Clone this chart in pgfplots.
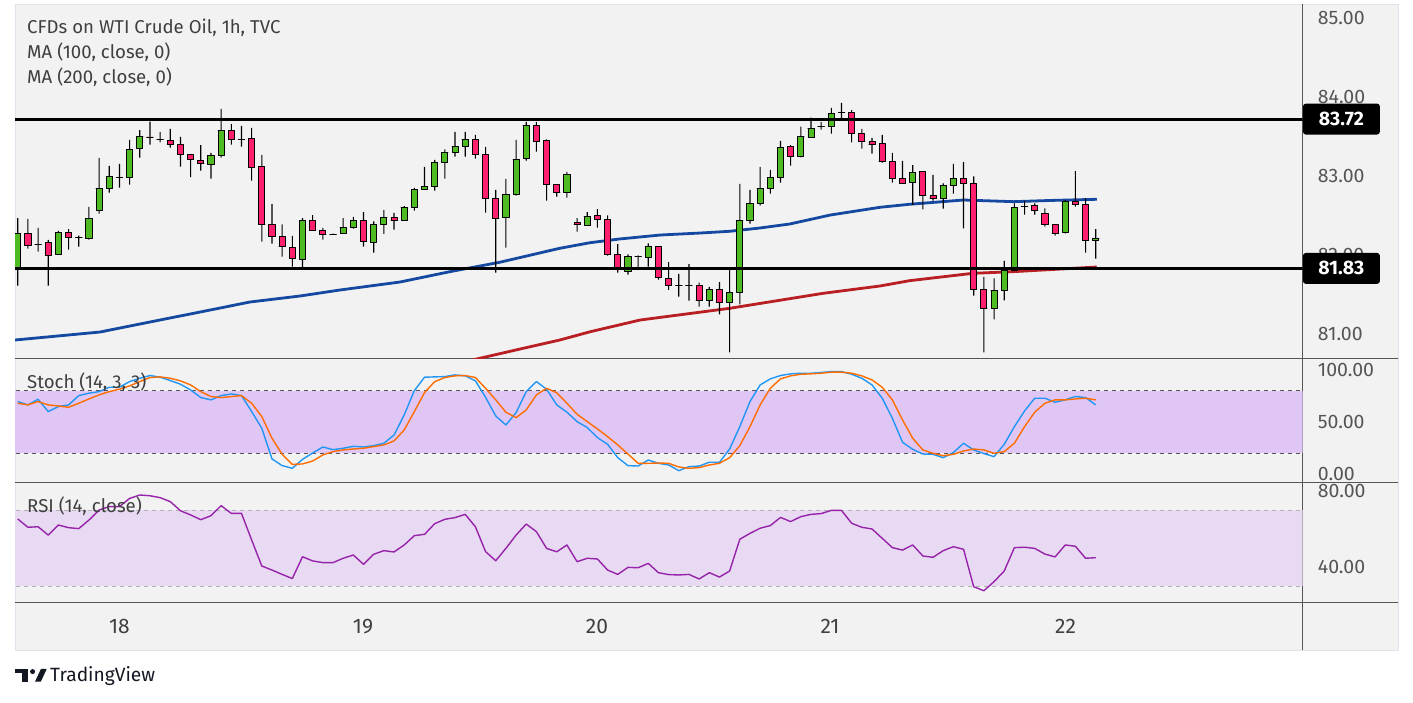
\documentclass[border=0pt]{standalone}
\usepackage{fontspec}
\setmainfont{Fira Sans}
\usepackage{pgfplots}
\pgfplotsset{compat=1.18}
\usepackage{pgfplotstable}

\definecolor{bgc}{HTML}{F2F2F2}
\definecolor{framec}{HTML}{E0E3EB}
\definecolor{sepc}{HTML}{555555}
\definecolor{ticktext}{HTML}{555555}
\definecolor{titletext}{HTML}{3F3F3F}
\definecolor{cgreen}{RGB}{77,187,33}
\definecolor{cred}{RGB}{255,31,110}
\definecolor{maone}{RGB}{21,72,160}
\definecolor{matwo}{RGB}{185,30,35}
\definecolor{stk}{HTML}{2196F3}
\definecolor{std}{HTML}{FF6D00}
\definecolor{rsic}{RGB}{150,35,170}
\definecolor{stband}{HTML}{E0C6F5}
\definecolor{rsiband}{HTML}{E9DAF3}
\definecolor{tvdark}{HTML}{131722}

\pgfplotstableread{
x o h l c
0 81.844 82.468 81.612 82.274
1 82.274 82.456 82.080 82.122
2 82.139 82.342 82.042 82.139
3 82.160 82.190 81.612 81.996
4 82.008 82.304 82.008 82.287
5 82.287 82.329 82.068 82.224
6 82.219 82.245 82.106 82.219
7 82.211 82.608 82.194 82.464
8 82.565 83.228 82.523 82.844
9 82.844 83.127 82.789 82.996
10 82.987 83.152 82.852 82.987
11 82.979 83.456 82.890 83.338
12 83.350 83.582 83.232 83.502
13 83.494 83.688 83.397 83.494
14 83.468 83.557 83.426 83.468
15 83.451 83.595 83.359 83.401
16 83.401 83.494 83.118 83.274
17 83.274 83.274 82.987 83.207
18 83.198 83.392 83.068 83.160
19 83.148 83.291 82.966 83.262
20 83.262 83.848 83.232 83.578
21 83.578 83.658 83.397 83.464
22 83.468 83.633 83.371 83.468
23 83.477 83.608 82.941 83.110
24 83.122 83.266 82.169 82.388
25 82.388 82.646 82.143 82.236
26 82.236 82.388 81.979 82.110
27 82.097 82.241 81.852 81.958
28 81.945 82.468 81.831 82.439
29 82.439 82.506 82.312 82.312
30 82.312 82.342 82.194 82.262
31 82.262 82.270 82.255 82.262
32 82.270 82.468 82.270 82.350
33 82.350 82.481 82.333 82.439
34 82.439 82.544 82.106 82.169
35 82.160 82.426 82.030 82.388
36 82.388 82.570 82.266 82.477
37 82.477 82.532 82.321 82.439
38 82.439 82.620 82.439 82.603
39 82.603 82.848 82.561 82.831
40 82.831 83.114 82.831 82.865
41 82.865 83.203 82.814 83.173
42 83.173 83.338 82.966 83.300
43 83.300 83.557 83.245 83.376
44 83.376 83.557 83.245 83.464
45 83.464 83.519 83.219 83.274
46 83.274 83.367 82.536 82.717
47 82.717 82.823 81.776 82.464
48 82.477 82.962 82.093 82.768
49 82.768 83.456 82.751 83.211
50 83.224 83.684 83.194 83.641
51 83.641 83.684 83.308 83.439
52 83.451 83.464 82.688 82.895
53 82.895 82.895 82.738 82.793
54 82.793 83.051 82.726 83.021
55 82.414 82.468 82.295 82.388
56 82.376 82.544 82.376 82.489
57 82.502 82.582 82.346 82.452
58 82.452 82.502 81.992 82.008
59 82.008 82.139 81.776 81.831
60 81.793 82.008 81.751 81.983
61 81.979 81.996 81.831 81.979
62 81.970 82.148 81.852 82.110
63 82.110 82.110 81.688 81.717
64 81.705 81.911 81.557 81.616
65 81.612 81.760 81.473 81.612
66 81.612 81.886 81.422 81.612
67 81.616 81.650 81.346 81.426
68 81.426 81.595 81.346 81.565
69 81.565 81.658 81.249 81.401
70 81.401 81.810 80.768 81.527
71 81.527 82.899 81.375 82.439
72 82.439 82.823 82.397 82.654
73 82.654 83.114 82.624 82.844
74 82.844 83.076 82.776 82.983
75 82.983 83.443 82.916 83.363
76 83.376 83.392 83.131 83.249
77 83.249 83.624 83.236 83.502
78 83.489 83.738 83.489 83.603
79 83.624 83.684 83.586 83.624
80 83.629 83.861 83.536 83.793
81 83.806 83.924 83.717 83.806
82 83.806 83.835 83.426 83.540
83 83.540 83.595 83.346 83.439
84 83.439 83.481 83.283 83.401
85 83.414 83.519 83.169 83.181
86 83.186 83.291 82.916 82.970
87 82.970 83.190 82.907 82.907
88 82.920 83.139 82.633 83.046
89 83.059 83.059 82.578 82.751
90 82.755 83.013 82.688 82.717
91 82.717 82.907 82.586 82.882
92 82.882 83.152 82.776 82.970
93 82.970 83.177 82.338 82.907
94 82.907 82.996 81.485 81.565
95 81.565 81.722 80.768 81.325
96 81.325 81.705 81.186 81.553
97 81.553 81.924 81.426 81.806
98 81.806 82.654 81.806 82.603
99 82.612 82.684 82.511 82.612
100 82.629 82.654 82.511 82.565
101 82.527 82.591 82.359 82.388
102 82.388 82.388 82.245 82.274
103 82.287 82.696 82.274 82.679
104 82.679 83.063 82.612 82.641
105 82.641 82.717 82.030 82.186
106 82.186 82.329 81.954 82.211
}\candles

\pgfplotstableread{
x y
-0.27 80.924
8.09 81.025
13.0 81.152
17.93 81.278
22.84 81.405
27.76 81.481
31.69 81.557
37.59 81.658
42.5 81.789
47.4 81.908
53.3 82.085
56.3 82.156
59.2 82.203
63.2 82.253
67.1 82.278
70.0 82.300
73.0 82.342
75.9 82.392
79.9 82.506
84.8 82.604
87.7 82.642
93.0 82.696
97.9 82.675
101.5 82.690
106.1 82.705
}\maone

\pgfplotstableread{
x y
44.5 80.665
49.4 80.810
53.3 80.924
56.3 81.029
61.2 81.177
70.0 81.325
79.2 81.515
84.8 81.608
87.7 81.675
93.9 81.768
97.9 81.789
106.1 81.848
}\matwo

\pgfplotstableread{
x k d
0 69.6 68.0
1 66.4 66.4
2 71.8 69.6
3 60.0 66.4
4 64.8 65.4
5 66.4 64.1
6 75.3 68.0
7 77.6 72.1
8 79.1 76.0
9 83.3 79.1
10 83.3 81.4
11 88.7 84.6
12 91.9 88.7
13 94.5 92.6
14 92.9 93.2
15 89.7 91.9
16 86.2 89.4
17 80.7 85.5
18 73.4 79.1
19 71.2 74.4
20 75.3 73.4
21 76.9 74.4
22 75.3 75.3
23 60.0 68.0
24 44.0 55.2
25 14.7 34.5
26 8.3 19.1
27 5.7 9.5
28 14.3 9.9
29 20.4 12.7
30 26.1 18.5
31 23.6 21.7
32 24.9 23.3
33 26.8 24.2
34 26.1 24.9
35 27.4 26.5
36 29.7 28.1
37 37.6 31.9
38 56.8 42.4
39 80.1 60.0
40 92.9 78.2
41 93.2 88.7
42 93.5 92.6
43 95.1 94.2
44 94.2 94.5
45 89.4 92.6
46 73.7 82.3
47 55.8 71.2
48 47.2 59.4
49 59.0 54.2
50 79.1 61.6
51 88.7 76.0
52 81.4 82.3
53 66.4 78.0
54 59.4 68.0
55 50.4 57.4
56 44.7 50.4
57 35.1 43.4
58 28.7 36.0
59 15.9 28.1
60 8.3 19.4
61 7.9 10.5
62 13.7 10.5
63 10.5 10.8
64 8.9 10.5
65 3.5 7.0
66 7.3 5.7
67 7.9 6.4
68 11.5 8.9
69 11.5 10.5
70 24.2 15.9
71 45.6 27.4
72 69.6 45.6
73 85.5 66.4
74 91.3 82.3
75 94.5 91.3
76 96.1 94.2
77 96.7 95.7
78 96.7 96.1
79 97.4 96.7
80 98.3 97.7
81 98.3 97.7
82 95.7 96.7
83 91.9 94.2
84 85.5 90.3
85 72.8 83.3
86 53.6 71.2
87 30.6 52.0
88 23.9 34.5
89 19.4 23.3
90 19.1 20.1
91 15.9 17.8
92 20.8 19.1
93 29.7 22.3
94 23.3 24.2
95 19.8 23.3
96 16.9 20.1
97 28.7 21.7
98 45.6 29.7
99 60.6 45.6
100 72.8 59.4
101 72.8 68.0
102 68.9 71.2
103 71.2 71.2
104 74.4 72.1
105 73.4 72.8
106 66.4 71.2
}\stoch

\pgfplotstableread{
x r
0 65.3
1 60.9
2 61.2
3 56.8
4 62.1
5 60.7
6 60.2
7 64.7
8 70.0
9 71.8
10 71.8
11 76.1
12 77.9
13 77.5
14 76.5
15 74.4
16 69.6
17 67.4
18 64.9
19 67.0
20 72.3
21 68.2
22 68.2
23 54.2
24 40.5
25 38.4
26 36.1
27 33.9
28 45.4
29 43.2
30 42.3
31 42.3
32 44.6
33 46.3
34 41.4
35 46.7
36 48.6
37 47.9
38 51.6
39 56.5
40 57.2
41 62.8
42 65.1
43 66.0
44 67.7
45 61.2
46 48.1
47 43.3
48 49.8
49 56.8
50 62.6
51 58.6
52 49.8
53 48.0
54 51.6
55 42.8
56 44.6
57 44.2
58 38.4
59 36.1
60 39.8
61 39.6
62 41.9
63 37.0
64 36.0
65 35.8
66 36.1
67 33.7
68 37.0
69 34.7
70 37.9
71 54.6
72 57.7
73 60.4
74 61.8
75 66.1
76 63.9
77 66.5
78 67.7
79 68.1
80 69.8
81 69.8
82 63.0
83 60.9
84 60.0
85 55.1
86 50.2
87 48.9
88 51.6
89 45.8
90 45.1
91 48.6
92 50.7
93 49.3
94 29.6
95 27.5
96 32.3
97 37.9
98 50.2
99 50.4
100 49.8
101 46.8
102 45.3
103 51.6
104 50.9
105 44.6
106 44.9
}\rsi

\pgfplotsset{
  tvaxis/.style={
    scale only axis, width=1287.7pt,
    xmin=-0.27, xmax=126.35,
    axis line style={draw=none},
    major tick length=0pt,
    xtick=\empty,
    ytick pos=right, yticklabel pos=right,
    tick label style={font=\fontsize{19.5}{21}\selectfont, text=ticktext},
    yticklabel style={anchor=west, xshift=15pt, inner sep=0pt},
    clip=true,
    anchor=south west,
    every axis plot/.append style={line join=round},
  }
}

\begin{document}
\begin{tikzpicture}[x=1pt,y=1pt]
\useasboundingbox (0,0) rectangle (1413,703);
\fill[bgc] (15,53) rectangle (1398,699);
\draw[framec, line width=0.8pt] (15,53) rectangle (1398,699);
% separators
\draw[sepc, line width=1pt] (1302.7,53) -- (1302.7,699);
\draw[sepc, line width=1pt] (15,344.5) -- (1398,344.5);
\draw[sepc, line width=1pt] (15,220.7) -- (1398,220.7);
\draw[sepc, line width=1pt] (15,100.7) -- (1398,100.7);

% price panel
\begin{axis}[tvaxis, at={(15pt,344.5pt)}, height=354.5pt,
  ymin=80.690, ymax=85.177,
  ytick={81,82,83,84,85}, yticklabels={81.00,82.00,83.00,84.00,85.00}]
\addplot[maone, line width=2.8pt, mark=none] table[x=x,y=y] \maone;
\addplot[matwo, line width=2.8pt, mark=none] table[x=x,y=y] \matwo;
% candles: wick and body as stacked bars
\addplot[ybar, stack plots=y, bar width=0.11, draw=none, fill=none] table[x=x, y=l] \candles;
\addplot[ybar, stack plots=y, bar width=0.11, draw=none, fill=black] table[x=x, y expr={\thisrow{h}-\thisrow{l}}] \candles;
\addplot[ybar, stack plots=y, bar width=0.11, draw=none, fill=none] table[x=x, y expr={min(\thisrow{o},\thisrow{c})-\thisrow{h}}] \candles;
\addplot[ybar, stack plots=y, bar width=0.6, draw=black, line width=0.9pt, fill=cgreen] table[x=x, y expr={max(\thisrow{c}-\thisrow{o},0)}] \candles;
\addplot[ybar, stack plots=y, bar width=0.6, draw=black, line width=0.9pt, fill=cred] table[x=x, y expr={max(\thisrow{o}-\thisrow{c},0)}] \candles;
\addplot[black, line width=3pt, mark=none] coordinates {(-1,83.72) (130,83.72)};
\addplot[black, line width=3pt, mark=none] coordinates {(-1,81.83) (130,81.83)};
\end{axis}

% stochastic panel
\begin{axis}[tvaxis, at={(15pt,220.7pt)}, height=123.8pt,
  ymin=-7.66, ymax=110.8,
  ytick={0,50,100}, yticklabels={0.00,50.00,100.00}]
\fill[stband] (axis cs:-1,20) rectangle (axis cs:130,80);
\draw[sepc, line width=0.9pt, dash pattern=on 4pt off 4pt] (axis cs:-1,80) -- (axis cs:130,80);
\draw[sepc, line width=0.9pt, dash pattern=on 4pt off 4pt] (axis cs:-1,20) -- (axis cs:130,20);
\addplot[stk, line width=1.4pt, mark=none] table[x=x,y=k] \stoch;
\addplot[std, line width=1.4pt, mark=none] table[x=x,y=d] \stoch;
\end{axis}

% RSI panel
\begin{axis}[tvaxis, at={(15pt,100.7pt)}, height=120pt,
  ymin=21.42, ymax=84.58,
  ytick={40,80}, yticklabels={40.00,80.00},
  xtick={10,33.95,56.96,79.87,103.03}, xticklabels={18,19,20,21,22},
  xticklabel style={anchor=center, yshift=-24pt, text=titletext, font=\fontsize{21}{23}\selectfont}]
\fill[rsiband] (axis cs:-1,30) rectangle (axis cs:130,70);
\draw[gray!60, line width=0.9pt, dash pattern=on 4pt off 4pt] (axis cs:-1,70) -- (axis cs:130,70);
\draw[gray!60, line width=0.9pt, dash pattern=on 4pt off 4pt] (axis cs:-1,30) -- (axis cs:130,30);
\addplot[rsic, line width=1.4pt, mark=none] table[x=x,y=r] \rsi;
\end{axis}

% price labels
\node[fill=black, text=white, rounded corners=3pt, minimum width=77pt, minimum height=31pt, inner sep=0pt, anchor=west, font=\bfseries\fontsize{19.5}{21}\selectfont] at (1302.7,583.9) {83.72};
\node[fill=black, text=white, rounded corners=3pt, minimum width=77pt, minimum height=31pt, inner sep=0pt, anchor=west, font=\bfseries\fontsize{19.5}{21}\selectfont] at (1302.7,434.6) {81.83};

% titles
\begin{scope}[every node/.style={anchor=base west, inner sep=0pt, text=titletext, font=\fontsize{18.6}{21}\selectfont}]
\node at (27,669.8) {CFDs on WTI Crude Oil, 1h, TVC};
\node at (27,644.5) {MA (100, close, 0)};
\node at (27,619.2) {MA (200, close, 0)};
\node at (27,314) {Stoch (14, 3, 3)};
\node at (27,190) {RSI (14, close)};
\end{scope}

% TradingView logo
\fill[tvdark] (15,34) rectangle (28.3,29.5);
\fill[tvdark] (21.7,34) rectangle (28.3,21.3);
\fill[tvdark] (32.6,31.4) circle (2.5);
\fill[tvdark] (35,21.3) -- (40.8,21.3) -- (46.7,34) -- (40.9,34) -- cycle;
\node[anchor=base west, inner sep=0pt, text=tvdark, font=\fontsize{19.2}{21}\selectfont] at (50,21.3) {TradingView};
\end{tikzpicture}
\end{document}
